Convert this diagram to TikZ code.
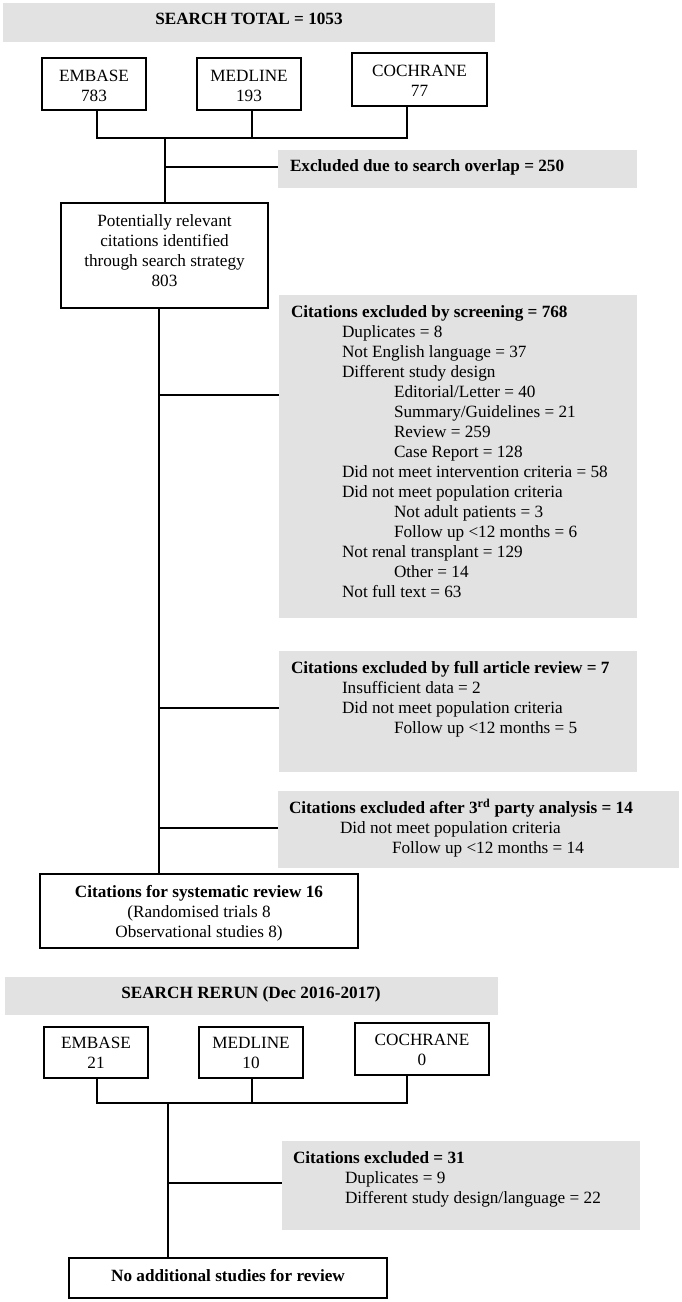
\documentclass[tikz,border=0pt]{standalone}
\usepackage{fontspec}
\setmainfont{Liberation Serif}
\definecolor{boxgray}{RGB}{226,226,226}
\newcommand\mkbox[6]{%
  \pgfmathsetmacro\bxw{#5-#3}\pgfmathsetmacro\bxh{#6-#4}%
  \pgfmathsetmacro\bxx{(#3+#5)/2}\pgfmathsetmacro\bxy{(#4+#6)/2}%
  \node[#1, minimum width=\bxw pt, minimum height=\bxh pt] (#2) at (\bxx,\bxy) {};}
\newcommand\ind{\hspace*{51pt}}
\newcommand\indd{\hspace*{103pt}}
\begin{document}
\begin{tikzpicture}[x=1pt,y=-1pt,
  every node/.style={inner sep=0pt, outer sep=0pt},
  gbox/.style={fill=boxgray, draw=none},
  wbox/.style={draw=black, line width=1.2pt, fill=white},
  conn/.style={line width=1.2pt},
  txt/.style={font=\fontsize{17.2}{20}\selectfont, anchor=base},
  ltxt/.style={font=\fontsize{17.2}{20}\selectfont, anchor=base west}]
\path[use as bounding box, fill=white] (0,0) rectangle (681,1302);

% ---------- first search ----------
\mkbox{gbox}{hd1}{3}{3}{495}{42}
\node[txt] (hd1t) at (249,24) {\textbf{SEARCH TOTAL = 1053}};

\mkbox{wbox}{emb1}{42}{58}{146}{110}
\mkbox{wbox}{med1}{197}{58}{301}{110}
\mkbox{wbox}{coc1}{352}{53}{487}{106}
\node[txt] (emb1t) at (94,81.5) {\begin{tabular}[t]{@{}c@{}}EMBASE\\783\end{tabular}};
\node[txt] (med1t) at (249,81.5) {\begin{tabular}[t]{@{}c@{}}MEDLINE\\193\end{tabular}};
\node[txt] (coc1t) at (419.5,76.5) {\begin{tabular}[t]{@{}c@{}}COCHRANE\\77\end{tabular}};

\coordinate (ja) at (97,138);
\coordinate (jm) at (252,138);
\coordinate (jc) at (407,138);
\coordinate (t1) at (165,138);
\draw[conn] (emb1.south -| ja) -- (ja) -- (jc) -- (coc1.south -| jc);
\draw[conn] (med1.south -| jm) -- (jm);

\mkbox{gbox}{exc1}{278}{150}{637}{188}
\node[ltxt] (exc1t) at (290,171.5) {\textbf{Excluded due to search overlap = 250}};

\mkbox{wbox}{pot}{61}{203}{268}{308}
\node[txt] (pott) at (164.5,226.5) {\begin{tabular}[t]{@{}c@{}}Potentially relevant\\citations identified\\through search strategy\\803\end{tabular}};

\draw[conn] (t1) -- (t1 |- pot.north);
\coordinate (b0) at (165,167);
\draw[conn] (b0) -- (b0 -| exc1.west);

\mkbox{gbox}{scr}{279}{295}{637}{618}
\node[ltxt] (scrt) at (291,317.5) {\begin{tabular}[t]{@{}l@{}}%
\textbf{Citations excluded by screening = 768}\\
\ind Duplicates = 8\\
\ind Not English language = 37\\
\ind Different study design\\
\indd Editorial/Letter = 40\\
\indd Summary/Guidelines = 21\\
\indd Review = 259\\
\indd Case Report = 128\\
\ind Did not meet intervention criteria = 58\\
\ind Did not meet population criteria\\
\indd Not adult patients = 3\\
\indd Follow up <12 months = 6\\
\ind Not renal transplant = 129\\
\indd Other = 14\\
\ind Not full text = 63\end{tabular}};

\mkbox{gbox}{full}{279}{651}{637}{772}
\node[ltxt] (fullt) at (291,673.5) {\begin{tabular}[t]{@{}l@{}}%
\textbf{Citations excluded by full article review = 7}\\
\ind Insufficient data = 2\\
\ind Did not meet population criteria\\
\indd Follow up <12 months = 5\end{tabular}};

\mkbox{gbox}{third}{278}{791}{679}{868}
\node[ltxt] (thirdt) at (289,813.5) {\begin{tabular}[t]{@{}l@{}}%
\textbf{Citations excluded after 3\textsuperscript{rd} party analysis = 14}\\
\ind Did not meet population criteria\\
\indd Follow up <12 months = 14\end{tabular}};

\mkbox{wbox}{sys}{40}{874}{358}{948}
\node[txt] (syst) at (199,897.5) {\begin{tabular}[t]{@{}c@{}}\textbf{Citations for systematic review 16}\\(Randomised trials 8\\Observational studies 8)\end{tabular}};

\coordinate (t2) at (159,308);
\draw[conn] (pot.south -| t2) -- (t2 |- sys.north);
\coordinate (b1) at (159,395);
\coordinate (b2) at (159,708);
\coordinate (b3) at (159,828);
\draw[conn] (b1) -- (b1 -| scr.west);
\draw[conn] (b2) -- (b2 -| full.west);
\draw[conn] (b3) -- (b3 -| third.west);

% ---------- rerun ----------
\mkbox{gbox}{hd2}{5}{977}{498}{1015}
\node[txt] (hd2t) at (251,998.5) {\textbf{SEARCH RERUN (Dec 2016-2017)}};

\mkbox{wbox}{emb2}{44}{1027}{148}{1078}
\mkbox{wbox}{med2}{199}{1027}{303}{1078}
\mkbox{wbox}{coc2}{355}{1023}{489}{1075}
\node[txt] (emb2t) at (96,1048.5) {\begin{tabular}[t]{@{}c@{}}EMBASE\\21\end{tabular}};
\node[txt] (med2t) at (251,1048.5) {\begin{tabular}[t]{@{}c@{}}MEDLINE\\10\end{tabular}};
\node[txt] (coc2t) at (422,1045.5) {\begin{tabular}[t]{@{}c@{}}COCHRANE\\0\end{tabular}};

\coordinate (ka) at (97,1103);
\coordinate (km) at (252,1103);
\coordinate (kc) at (407,1103);
\coordinate (t3) at (168,1103);
\draw[conn] (emb2.south -| ka) -- (ka) -- (kc) -- (coc2.south -| kc);
\draw[conn] (med2.south -| km) -- (km);

\mkbox{gbox}{exc2}{282}{1141}{640}{1230}
\node[ltxt] (exc2t) at (293,1163.5) {\begin{tabular}[t]{@{}l@{}}%
\textbf{Citations excluded = 31}\\
\hspace*{52pt}Duplicates = 9\\
\hspace*{52pt}Different study design/language = 22\end{tabular}};

\mkbox{wbox}{fin}{69}{1258}{387}{1298}
\node[txt] (fint) at (228,1281.5) {\textbf{No additional studies for review}};

\draw[conn] (t3) -- (t3 |- fin.north);
\coordinate (b4) at (168,1183);
\draw[conn] (b4) -- (b4 -| exc2.west);
\end{tikzpicture}
\end{document}
